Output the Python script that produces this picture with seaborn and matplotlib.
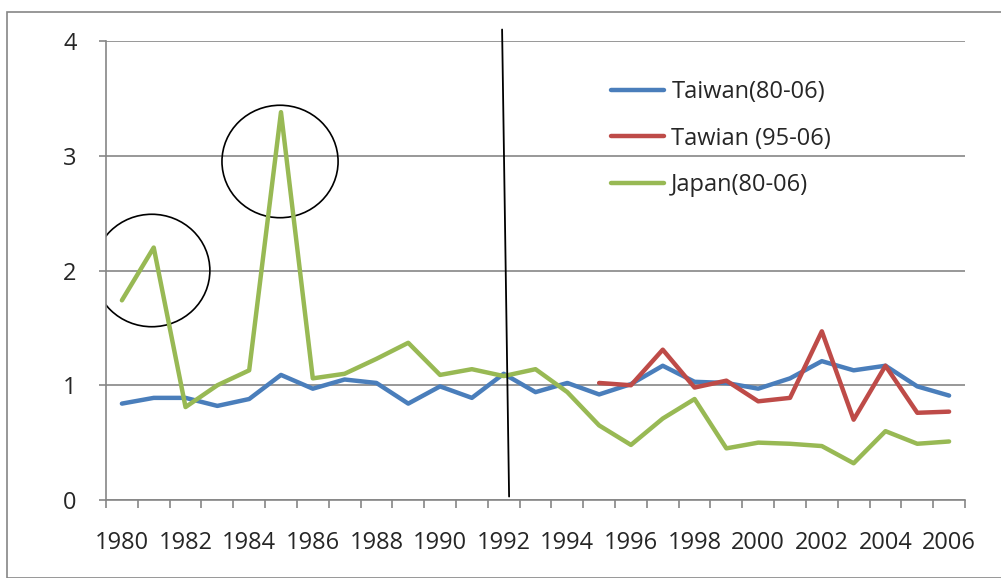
import numpy as np
import pandas as pd
import matplotlib
matplotlib.use("Agg")
import matplotlib.pyplot as plt
from matplotlib.patches import Ellipse, Rectangle
import seaborn as sns

# data
years = list(range(1980, 2007))
taiwan_80_06 = [0.84, 0.89, 0.89, 0.82, 0.88, 1.09, 0.97, 1.05, 1.02, 0.84,
                0.99, 0.89, 1.10, 0.94, 1.02, 0.92, 1.01, 1.17, 1.03, 1.02,
                0.97, 1.06, 1.21, 1.13, 1.17, 0.99, 0.91]
tawian_95_06 = [np.nan] * 15 + [1.02, 1.00, 1.31, 0.98, 1.04, 0.86, 0.89,
                                1.47, 0.70, 1.17, 0.76, 0.77]
japan_80_06 = [1.74, 2.20, 0.81, 1.00, 1.13, 3.38, 1.06, 1.10, 1.23, 1.37,
               1.09, 1.14, 1.08, 1.14, 0.94, 0.65, 0.48, 0.71, 0.88, 0.45,
               0.50, 0.49, 0.47, 0.32, 0.60, 0.49, 0.51]
series_names = ["Taiwan(80-06)", "Tawian (95-06)", "Japan(80-06)"]
colors = ["#4A7EBB", "#BE4B48", "#98B954"]
y_ticks = [0, 1, 2, 3, 4]

df = pd.DataFrame({"pos": np.arange(len(years))})
df[series_names[0]] = taiwan_80_06
df[series_names[1]] = tawian_95_06
df[series_names[2]] = japan_80_06
long_df = df.melt(id_vars="pos", var_name="series", value_name="value").dropna()

sns.set_style("white")
plt.rcParams["font.family"] = ["Open Sans", "DejaVu Sans"]

fig = plt.figure(figsize=(10.01, 5.78), dpi=100)
ax = fig.add_axes([106 / 1001, 1 - 500 / 578, 859 / 1001, 459 / 578])

sns.lineplot(data=long_df, x="pos", y="value", hue="series",
             hue_order=series_names, palette=colors, linewidth=3.2,
             ax=ax, sort=False)

ax.set_xlim(-0.5, len(years) - 0.5)
ax.set_ylim(0, 4)
ax.set_yticks(y_ticks)
ax.set_yticklabels([str(t) for t in y_ticks], fontsize=17)
ax.set_xticks(np.arange(0, len(years), 2))
ax.set_xticklabels([str(y) for y in years[::2]], fontsize=17)
ax.set_xticks(np.arange(-0.5, len(years), 1), minor=True)
ax.tick_params(axis="x", which="both", bottom=True)
ax.tick_params(axis="y", which="both", left=True)
ax.tick_params(axis="x", which="major", length=0, pad=22)
ax.tick_params(axis="x", which="minor", length=5.8, color="#868686", width=1.2)
ax.tick_params(axis="y", length=5.2, color="#868686", width=1.2, pad=16)
ax.set_xlabel("")
ax.set_ylabel("")

ax.yaxis.grid(True, color="#868686", linewidth=1.2)
ax.set_axisbelow(True)
for side in ["top", "right"]:
    ax.spines[side].set_visible(False)
for side in ["left", "bottom"]:
    ax.spines[side].set_color("#868686")
    ax.spines[side].set_linewidth(1.2)

# divider line near 1992 and the two circles
ax.plot([11.95, 12.17], [4.1, 0.03], color="black", linewidth=1.3, clip_on=False)
ax.add_patch(Ellipse((0.94, 2.0), 3.65, 0.98, fill=False, edgecolor="black",
                     linewidth=1.2))
ax.add_patch(Ellipse((4.97, 2.95), 3.65, 0.98, fill=False, edgecolor="black",
                     linewidth=1.2))

leg = ax.legend(loc="upper left", bbox_to_anchor=(0.577, 0.935), frameon=False,
                fontsize=17, handlelength=2.25, handletextpad=0.3,
                labelspacing=0.95, borderaxespad=0)
for line in leg.get_lines():
    line.set_linewidth(3.2)

fig.patches.append(Rectangle((7 / 1001, 0), 1.2, 1 - 12 / 578,
                             transform=fig.transFigure, fill=False,
                             edgecolor="#868686", linewidth=1.2))

fig.savefig("out.png", dpi=100)
